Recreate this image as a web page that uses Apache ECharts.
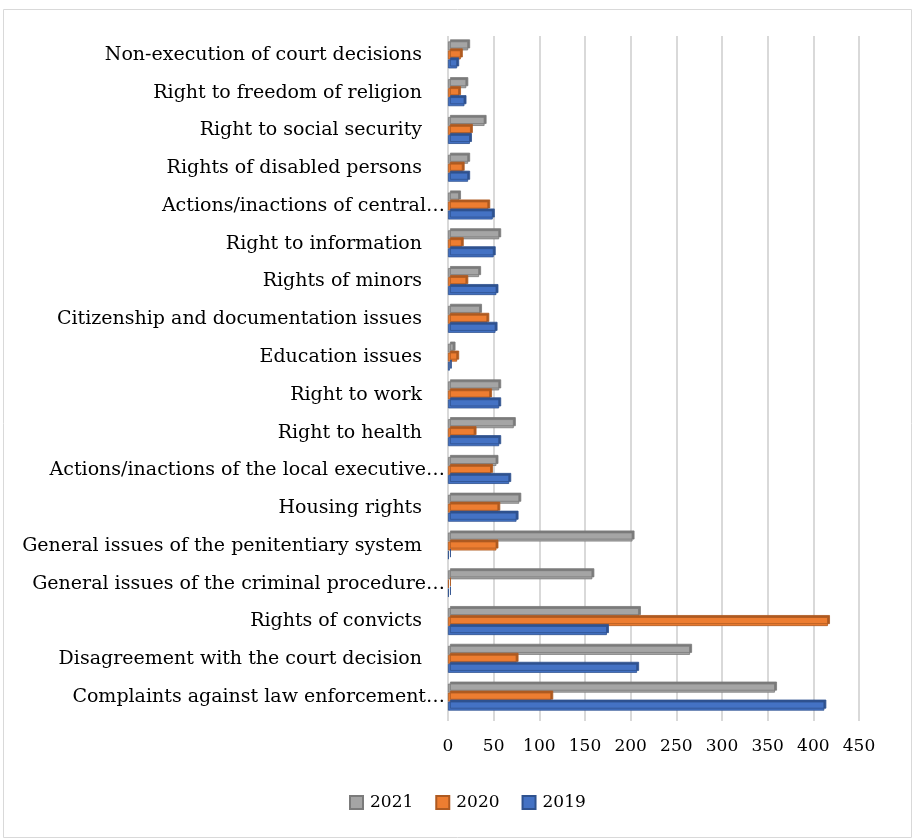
<!DOCTYPE html>
<html><head><meta charset="utf-8">
<script src="https://cdn.jsdelivr.net/npm/echarts@6/dist/echarts.min.js"></script>
<style>html,body{margin:0;padding:0;background:#fff}#c{width:915px;height:840px}</style>
</head><body><div id="c"></div>
<script>
// categories bottom -> top
const categories = [
  "Complaints against law enforcement…",
  "Disagreement with the court decision",
  "Rights of convicts",
  "General issues of the criminal procedure…",
  "General issues of the penitentiary system",
  "Housing rights",
  "Actions/inactions of the local executive…",
  "Right to health",
  "Right to work",
  "Education issues",
  "Citizenship and documentation issues",
  "Rights of minors",
  "Right to information",
  "Actions/inactions of central…",
  "Rights of disabled persons",
  "Right to social security",
  "Right to freedom of religion",
  "Non-execution of court decisions"
];
const v2019 = [412, 207, 174, 1, 1, 75, 67, 56, 56, 2, 52, 53, 50, 49, 22, 24, 18, 10];
const v2020 = [113, 75, 416, 1, 53, 55, 47, 29, 46, 10, 43, 20, 15, 44, 16, 25, 12, 14];
const v2021 = [358, 265, 209, 158, 202, 78, 53, 72, 56, 6, 35, 34, 56, 12, 22, 40, 20, 22];
const xTicks = [0, 50, 100, 150, 200, 250, 300, 350, 400, 450];

const FONT = "DejaVu Serif";
const chart = echarts.init(document.getElementById('c'), null, {renderer: 'canvas'});
const barStyle = (c, d) => ({color: c, borderColor: d, borderWidth: 0.8, shadowColor: d, shadowOffsetX: 2, shadowOffsetY: -2, shadowBlur: 0});
chart.setOption({
  animation: false,
  textStyle: {fontFamily: FONT, color: '#000'},
  graphic: [{type: 'rect', shape: {x: 3.5, y: 9.5, width: 908, height: 828}, style: {fill: 'none', stroke: '#d9d9d9', lineWidth: 1}, z: -1}],
  grid: {left: 448, right: 56, top: 36, bottom: 124, containLabel: false},
  xAxis: {
    type: 'value', min: xTicks[0], max: xTicks[xTicks.length - 1], interval: 50,
    axisLine: {show: false},
    axisTick: {show: true, length: 5, lineStyle: {color: '#d9d9d9', width: 2}},
    splitLine: {show: true, lineStyle: {color: '#d9d9d9', width: 2}},
    axisLabel: {fontFamily: FONT, fontSize: 17, color: '#000', margin: 22}
  },
  yAxis: {
    type: 'category', data: categories,
    axisLine: {show: false}, axisTick: {show: false},
    axisLabel: {
      fontFamily: FONT, fontSize: 19, color: '#000', margin: 3,
      formatter: (v) => v.endsWith('…') ? '{n|' + v + '}' : '{n|' + v + '}{s|}',
      rich: {n: {fontFamily: FONT, fontSize: 19, color: '#000'}, s: {width: 23}}
    }
  },
  legend: {
    data: ['2021', '2020', '2019'], bottom: 24, left: 344,
    itemWidth: 13, itemHeight: 13, itemGap: 22, icon: 'rect',
    textStyle: {fontFamily: FONT, fontSize: 17, color: '#000', padding: [0, 0, 0, 2]}
  },
  series: [
    {name: '2021', type: 'bar', data: v2021, barWidth: 9, barGap: '0%', itemStyle: barStyle('#A5A5A5', '#7B7B7B')},
    {name: '2020', type: 'bar', data: v2020, barWidth: 9, barGap: '0%', itemStyle: barStyle('#ED7D31', '#AE5A21')},
    {name: '2019', type: 'bar', data: v2019, barWidth: 9, barGap: '0%', itemStyle: barStyle('#4472C4', '#2F528F')}
  ]
});
</script></body></html>
